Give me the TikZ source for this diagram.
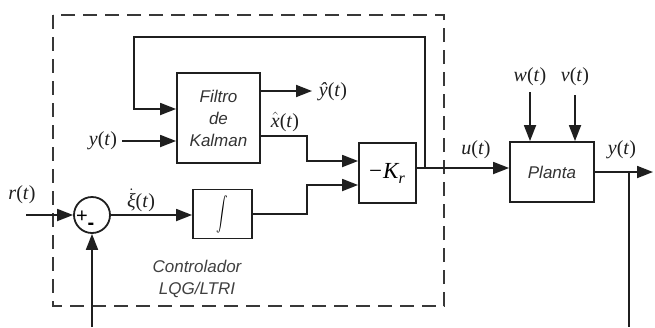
\documentclass[tikz,border=0pt]{standalone}
\usepackage{graphicx}
\usepackage{fontspec}
\setmainfont{Liberation Serif}
\setsansfont{Liberation Sans}
\usetikzlibrary{arrows.meta,calc}
\begin{document}
\begin{tikzpicture}[x=1pt,y=-1pt,
  line width=1.8pt, color=black!88,
  blk/.style={draw, line width=1.8pt, inner sep=0pt, align=center,
    font=\sffamily\itshape\fontsize{17}{22}\selectfont, text=black!80},
  arr/.style={-{Triangle[length=16pt,width=12pt]}},
  lbl/.style={font=\rmfamily\fontsize{20}{22}\selectfont, inner sep=0pt, text=black!88},
  sgn/.style={font=\sffamily\fontsize{20}{20}\selectfont, inner sep=0pt, text=black},
  ctrlbox/.style={draw=black!78, line width=2pt, dash pattern=on 14pt off 8pt}
]
\useasboundingbox (0,0) rectangle (655,327);
% controller boundary
\draw[ctrlbox] (53,15) rectangle (444,306);
% blocks
\node[blk, minimum width=83pt, minimum height=90pt] (kal) at (218.5,118) {Filtro\\de\\Kalman};
\node[blk, minimum width=57pt, minimum height=60pt, font=\rmfamily\fontsize{23}{23}\selectfont, text=black] (kr) at (387.5,173)
  {\kern-1pt−\kern1pt\textit{K}\kern-1pt\raisebox{-5pt}{\fontsize{16}{16}\selectfont\textit{r}}};
\node[blk, minimum width=59pt, minimum height=49pt, font=\fontsize{17}{17}\selectfont, text=black] (int) at (222.5,214) {\scalebox{1.15}[1.7]{$\displaystyle\int$}};
\node[blk, minimum width=84pt, minimum height=60pt] (pl) at (552,172) {Planta};
\node[draw, circle, minimum size=36pt, inner sep=0pt, line width=1.8pt] (sum) at (92,215) {};
\node[sgn] (plus) at (82,217) {+};
\node[sgn] (minus) at (91,226) {\textbf{-}};
% labels
\node[lbl] (lyin) at (103,141) {\textit{y}(\textit{t})};
\node[lbl] (lyhat) at (333,92) {\textit{ŷ}(\textit{t})};
\node[lbl] (lxhat) at (285,122) {$\hat{\hbox{\textit{x}}}$(\textit{t})};
\node[lbl] (lu) at (476,150) {\textit{u}(\textit{t})};
\node[lbl] (lw) at (530,77) {\textit{w}(\textit{t})};
\node[lbl] (lv) at (575,77) {\textit{v}(\textit{t})};
\node[lbl] (lyout) at (622,150) {\textit{y}(\textit{t})};
\node[lbl] (lr) at (22,195) {\textit{r}(\textit{t})};
\node[lbl] (lxi) at (141,200) {$\dot{\hbox{\textit{ξ}}}$(\textit{t})};
\node[font=\sffamily\itshape\fontsize{17}{22}\selectfont, text=black!75, align=center, inner sep=0pt] (lctrl) at (197,279) {Controlador\\LQG/LTRI};
% free ends and junctions
\coordinate (rin) at (26,215);
\coordinate (fbL) at (92,327);
\coordinate (yin) at (122,141);
\coordinate (yh) at (312,91);
\coordinate (j1) at (425,168);
\coordinate (ftop) at (134,37);
\coordinate (win) at (530,92);
\coordinate (vin) at (575,95);
\coordinate (yout) at (653,172);
\coordinate (j2) at (629,172);
\coordinate (fbR) at (629,327);
% connectors
\draw[arr] (rin) -- (sum);
\draw[arr] (fbL) -- (sum);
\draw[arr] (sum.east) -- (sum.east -| int.west);
\draw[arr] (int.east) -- ++(54,0) |- ([yshift=-12pt]kr.west);
\draw[arr] ([yshift=-18pt]kal.east) -- ++(46,0) |- ([yshift=12pt]kr.west);
\draw[arr] ([yshift=27pt]kal.east) -- (yh);
\draw[arr] (yin) -- (yin -| kal.west);
\draw[arr] ([yshift=5pt]kr.east) -- (j1) -- (j1 -| pl.west);
\draw[arr] (j1) |- (ftop) |- ([yshift=9pt]kal.west);
\draw[arr] (win) -- (win |- pl.north);
\draw[arr] (vin) -- (vin |- pl.north);
\draw[arr] (pl.east) -- (yout);
\draw (j2) -- (fbR);
\end{tikzpicture}
\end{document}
